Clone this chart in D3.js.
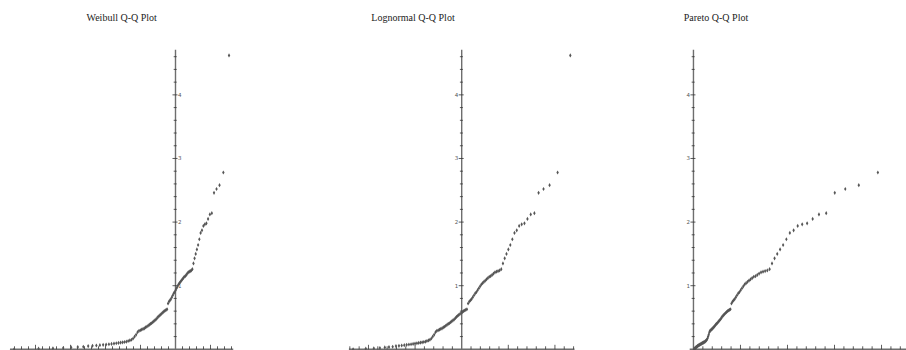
<!DOCTYPE html>
<html>
<head>
<meta charset="utf-8">
<script src="https://cdn.jsdelivr.net/npm/d3@7"></script>
<style>
  html, body { margin: 0; padding: 0; background: #fff; }
  svg { display: block; }
</style>
</head>
<body>
<svg id="chart" width="906" height="350"></svg>
<script>
// Sorted sample (same values on every panel's vertical axis)
const sampleValues = [
  0.00, 0.01, 0.015, 0.02, 0.03, 0.035, 0.04, 0.05, 0.055, 0.06,
  0.065, 0.07, 0.075, 0.08, 0.085, 0.09, 0.095, 0.10, 0.105, 0.11,
  0.115, 0.12, 0.13, 0.14, 0.15, 0.17, 0.20, 0.23, 0.27, 0.29,
  0.30, 0.31, 0.32, 0.33, 0.345, 0.355, 0.37, 0.385, 0.40, 0.41,
  0.425, 0.44, 0.455, 0.47, 0.49, 0.51, 0.525, 0.54, 0.555, 0.57,
  0.585, 0.60, 0.61, 0.62, 0.63, 0.72, 0.75, 0.77, 0.79, 0.82,
  0.85, 0.88, 0.90, 0.93, 0.96, 0.99, 1.02, 1.04, 1.06, 1.08,
  1.10, 1.12, 1.14, 1.15, 1.17, 1.19, 1.21, 1.22, 1.23, 1.24,
  1.26, 1.35, 1.43, 1.50, 1.57, 1.64, 1.73, 1.83, 1.87, 1.94,
  1.965, 1.98, 2.05, 2.12, 2.14, 2.46, 2.52, 2.58, 2.78, 4.62
];
const panelTitles = ["Weibull Q-Q Plot", "Lognormal Q-Q Plot", "Pareto Q-Q Plot"];
const distributions = ["weibull", "lognormal", "pareto"];
const yTickLabels = [1, 2, 3, 4];

// Inverse standard normal CDF (Acklam's rational approximation)
function normInv(p) {
  const a = [-3.969683028665376e+01, 2.209460984245205e+02, -2.759285104469687e+02,
             1.383577518672690e+02, -3.066479806614716e+01, 2.506628277459239e+00];
  const b = [-5.447609879822406e+01, 1.615858368580409e+02, -1.556989798598866e+02,
             6.680131188771972e+01, -1.328068155288572e+01];
  const c = [-7.784894002430293e-03, -3.223964580411365e-01, -2.400758277161838e+00,
             -2.549671039514233e+00, 4.374664141464968e+00, 2.938163982698783e+00];
  const d = [7.784695709041462e-03, 3.224671290700398e-01, 2.445134137142996e+00,
             3.754408661907416e+00];
  const pl = 0.02425;
  if (p < pl) {
    const q = Math.sqrt(-2 * Math.log(p));
    return (((((c[0]*q+c[1])*q+c[2])*q+c[3])*q+c[4])*q+c[5]) /
           ((((d[0]*q+d[1])*q+d[2])*q+d[3])*q+1);
  } else if (p <= 1 - pl) {
    const q = p - 0.5, r = q * q;
    return (((((a[0]*r+a[1])*r+a[2])*r+a[3])*r+a[4])*r+a[5])*q /
           (((((b[0]*r+b[1])*r+b[2])*r+b[3])*r+b[4])*r+1);
  } else {
    const q = Math.sqrt(-2 * Math.log(1 - p));
    return -(((((c[0]*q+c[1])*q+c[2])*q+c[3])*q+c[4])*q+c[5]) /
            ((((d[0]*q+d[1])*q+d[2])*q+d[3])*q+1);
  }
}

// Theoretical quantile for plotting position p
const quantile = {
  weibull: p => Math.log(-Math.log(1 - p)),
  lognormal: p => normInv(p),
  pareto: p => -Math.log(1 - p)
};

// Layout of each panel: horizontal domain/range, label side, title centre
const panels = [
  { domain: [-4.73, 1.65], range: [9.95, 233.25], labelSide: "right", titleX: 121.7 },
  { domain: [-2.42, 2.42], range: [348.9, 574.5], labelSide: "left", titleX: 413 },
  { domain: [-0.08, 4.71], range: [689.7, 914.9], labelSide: "left", titleX: 716 }
];

const svg = d3.select("#chart");
const y = d3.scaleLinear().domain([0, 4.71]).range([349.3, 49.7]);
const n = sampleValues.length;
const axisColor = "#6e6e6e";

panels.forEach((cfg, k) => {
  const x = d3.scaleLinear().domain(cfg.domain).range(cfg.range);
  const g = svg.append("g").attr("class", "panel");
  const fn = quantile[distributions[k]];

  // title
  svg.append("text")
    .attr("x", cfg.titleX).attr("y", 21)
    .attr("text-anchor", "middle")
    .attr("font-family", "'Liberation Serif', 'Times New Roman', serif")
    .attr("font-size", 10)
    .attr("fill", "#222")
    .text(panelTitles[k]);

  const x0 = x(0), yb = y(0);

  // horizontal axis with ticks every 0.2, longer at integers
  g.append("line")
    .attr("x1", cfg.range[0]).attr("x2", cfg.range[1])
    .attr("y1", yb).attr("y2", yb)
    .attr("stroke", axisColor).attr("stroke-width", 1.4);
  const xt0 = Math.ceil(cfg.domain[0] * 5), xt1 = Math.floor(cfg.domain[1] * 5);
  d3.range(xt0, xt1 + 1).filter(t => t !== 0).forEach(t => {
    const major = t % 5 === 0;
    g.append("line")
      .attr("x1", x(t / 5)).attr("x2", x(t / 5))
      .attr("y1", yb).attr("y2", yb - (major ? 4.5 : 3))
      .attr("stroke", "#333").attr("stroke-width", 0.8);
  });

  // vertical axis
  g.append("line")
    .attr("x1", x0).attr("x2", x0)
    .attr("y1", y(0)).attr("y2", y(4.71))
    .attr("stroke", axisColor).attr("stroke-width", 1.4);
  d3.range(1, 24).forEach(t => {
    const v = t / 5;
    const major = t % 5 === 0;
    g.append("line")
      .attr("x1", x0 - (major ? 3 : 1.8)).attr("x2", x0 + (major ? 2 : 1.2))
      .attr("y1", y(v)).attr("y2", y(v))
      .attr("stroke", "#333").attr("stroke-width", 0.8);
  });
  yTickLabels.forEach(v => {
    g.append("text")
      .attr("x", cfg.labelSide === "right" ? x0 + 2.5 : x0 - 3.5)
      .attr("y", y(v) + 2)
      .attr("text-anchor", cfg.labelSide === "right" ? "start" : "end")
      .attr("font-family", "'DejaVu Sans', sans-serif")
      .attr("font-size", 5.5)
      .attr("fill", "#555")
      .text(v);
  });

  // sample points against theoretical quantiles
  const pts = sampleValues.map((v, i) => ({ q: fn((i + 1) / (n + 1)), v }));
  g.selectAll("path.pt").data(pts).join("path")
    .attr("class", "pt")
    .attr("transform", d => `translate(${x(d.q)},${y(d.v)})`)
    .attr("d", d3.symbol(d3.symbolDiamond, 5))
    .attr("fill", "#555");
});
</script>
</body>
</html>
